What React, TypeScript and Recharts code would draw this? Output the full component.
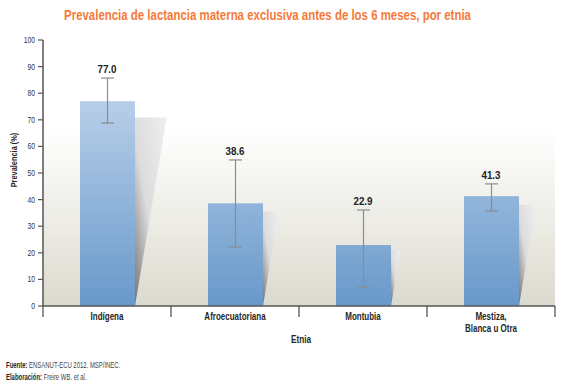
import { ComposedChart, Bar, Line, XAxis, YAxis, CartesianGrid, ErrorBar, LabelList } from 'recharts';

const categories = ['Indígena', 'Afroecuatoriana', 'Montubia', 'Mestiza,\nBlanca u Otra'];
const prevalence = [77.0, 38.6, 22.9, 41.3];
const ciLower = [68.8, 22.2, 7.1, 35.7];
const ciUpper = [85.7, 54.9, 36.1, 45.9];
const yTicks = [0, 10, 20, 30, 40, 50, 60, 70, 80, 90, 100];

const data = categories.map((name, i) => ({
  name,
  value: prevalence[i],
  upper: ciUpper[i],
  err: [prevalence[i] - ciLower[i], ciUpper[i] - prevalence[i]],
  label: prevalence[i].toFixed(1),
}));

// no condensed font installed, so Liberation Sans is squeezed horizontally
const FONT = '"Liberation Sans", Arial, sans-serif';
const SQUEEZE = 0.8;
const AXIS = '#555';
const INK = '#262626';

// bar with the slanted grey "perspective" shadow on its right side
const ShadowBar = (props: any) => {
  const { x, y, width, height } = props;
  if (!height) return null;
  const bottom = y + height;
  const right = x + width;
  const sTop = bottom - height * 0.92;
  const sW = height * 0.155;
  return (
    <g>
      <polygon points={`${right},${sTop} ${right + sW},${sTop} ${right},${bottom}`} fill="url(#shadowGrad)" />
      <rect x={x} y={y} width={width} height={height} fill="url(#barGrad)" />
    </g>
  );
};

const CategoryTick = (props: any) => {
  const { x, y, payload, index } = props;
  const half = payload.offset ?? 0;
  const lines = String(payload.value).split('\n');
  return (
    <g>
      {index === 0 && <line x1={x - half} x2={x - half} y1={y} y2={y + 11} stroke={AXIS} strokeWidth={1.3} />}
      <line x1={x + half} x2={x + half} y1={y} y2={y + 11} stroke={AXIS} strokeWidth={1.3} />
      <g transform={`translate(${x},${y + 14}) scale(${SQUEEZE},1)`}>
        <text x={0} y={0} textAnchor="middle" fontFamily={FONT} fontWeight="bold" fontSize={10} fill={INK}>
          {lines.map((l, i) => (
            <tspan key={i} x={0} dy={i === 0 ? 0 : 12}>
              {l}
            </tspan>
          ))}
        </text>
      </g>
    </g>
  );
};

const ValueTick = (props: any) => {
  const { x, y, payload } = props;
  return (
    <g transform={`translate(${x},${y}) scale(${SQUEEZE},1)`}>
      <text x={0} y={0} dy={3} textAnchor="end" fontFamily={FONT} fontSize={8.5} fill="#333">
        {payload.value}
      </text>
    </g>
  );
};

const TopLabel = (props: any) => {
  const { x, y, value } = props;
  return (
    <g transform={`translate(${x},${y - 5}) scale(0.85,1)`}>
      <text x={0} y={0} textAnchor="middle" fontFamily={FONT} fontWeight="bold" fontSize={11.5} fill="#222">
        {value}
      </text>
    </g>
  );
};

export default function App() {
  return (
    <div style={{ position: 'absolute', left: 0, top: 0, width: 567, height: 388, background: '#fff' }}>
      <ComposedChart width={567} height={388} data={data} margin={{ top: 40, right: 12, left: 0, bottom: 42 }}>
        <defs>
          <linearGradient id="bgGrad" x1="0" y1="0" x2="0" y2="1">
            <stop offset="0" stopColor="#ffffff" />
            <stop offset="0.33" stopColor="#ffffff" />
            <stop offset="1" stopColor="#dcdace" />
          </linearGradient>
          <linearGradient id="barGrad" gradientUnits="userSpaceOnUse" x1="0" y1="40" x2="0" y2="306">
            <stop offset="0" stopColor="#cfdef2" />
            <stop offset="1" stopColor="#6899ca" />
          </linearGradient>
          <linearGradient id="shadowGrad" x1="1" y1="0" x2="0" y2="1">
            <stop offset="0" stopColor="#efefef" />
            <stop offset="0.55" stopColor="#dcdcdc" />
            <stop offset="1" stopColor="#747474" />
          </linearGradient>
        </defs>
        <CartesianGrid fill="url(#bgGrad)" stroke="none" vertical={false} />
        <XAxis
          dataKey="name"
          height={40}
          tickSize={0}
          tickMargin={0}
          tickLine={false}
          axisLine={{ stroke: AXIS, strokeWidth: 1.5 }}
          interval={0}
          tick={<CategoryTick />}
        />
        <YAxis
          width={43}
          domain={[0, 100]}
          ticks={yTicks}
          interval={0}
          tickSize={5}
          tickMargin={3}
          tickLine={{ stroke: AXIS, strokeWidth: 1.2 }}
          axisLine={{ stroke: AXIS, strokeWidth: 1.5 }}
          tick={<ValueTick />}
        />
        <Bar dataKey="value" barSize={55} shape={<ShadowBar />} isAnimationActive={false}>
          <ErrorBar dataKey="err" width={6.5} stroke="#8c8c8c" strokeWidth={1.2} direction="y" />
        </Bar>
        <Line dataKey="upper" stroke="none" dot={false} activeDot={false} legendType="none" isAnimationActive={false}>
          <LabelList dataKey="label" content={<TopLabel />} />
        </Line>
      </ComposedChart>

      <svg width={567} height={388} style={{ position: 'absolute', left: 0, top: 0, pointerEvents: 'none' }}>
        <g transform="translate(267.5,20) scale(0.79,1)">
          <text x={0} y={0} textAnchor="middle" fontFamily={FONT} fontWeight="bold" fontSize={14.5} fill="#f47a3a">
            Prevalencia de lactancia materna exclusiva antes de los 6 meses, por etnia
          </text>
        </g>
        <g transform="translate(17,160) rotate(-90) scale(0.78,1)">
          <text x={0} y={0} textAnchor="middle" fontFamily={FONT} fontWeight="bold" fontSize={9.5} fill={INK}>
            Prevalencia (%)
          </text>
        </g>
        <g transform="translate(301,343) scale(0.82,1)">
          <text x={0} y={0} textAnchor="middle" fontFamily={FONT} fontWeight="bold" fontSize={10} fill={INK}>
            Etnia
          </text>
        </g>
        <g transform="translate(6,368) scale(0.7,1)">
          <text x={0} y={0} fontFamily={FONT} fontSize={8.5} fill="#444">
            <tspan fontWeight="bold" fill="#1e1e1e">Fuente:</tspan> ENSANUT-ECU 2012. MSP/INEC.
          </text>
        </g>
        <g transform="translate(6,380) scale(0.7,1)">
          <text x={0} y={0} fontFamily={FONT} fontSize={8.5} fill="#444">
            <tspan fontWeight="bold" fill="#1e1e1e">Elaboración:</tspan> Freire WB. et al.
          </text>
        </g>
      </svg>
    </div>
  );
}
